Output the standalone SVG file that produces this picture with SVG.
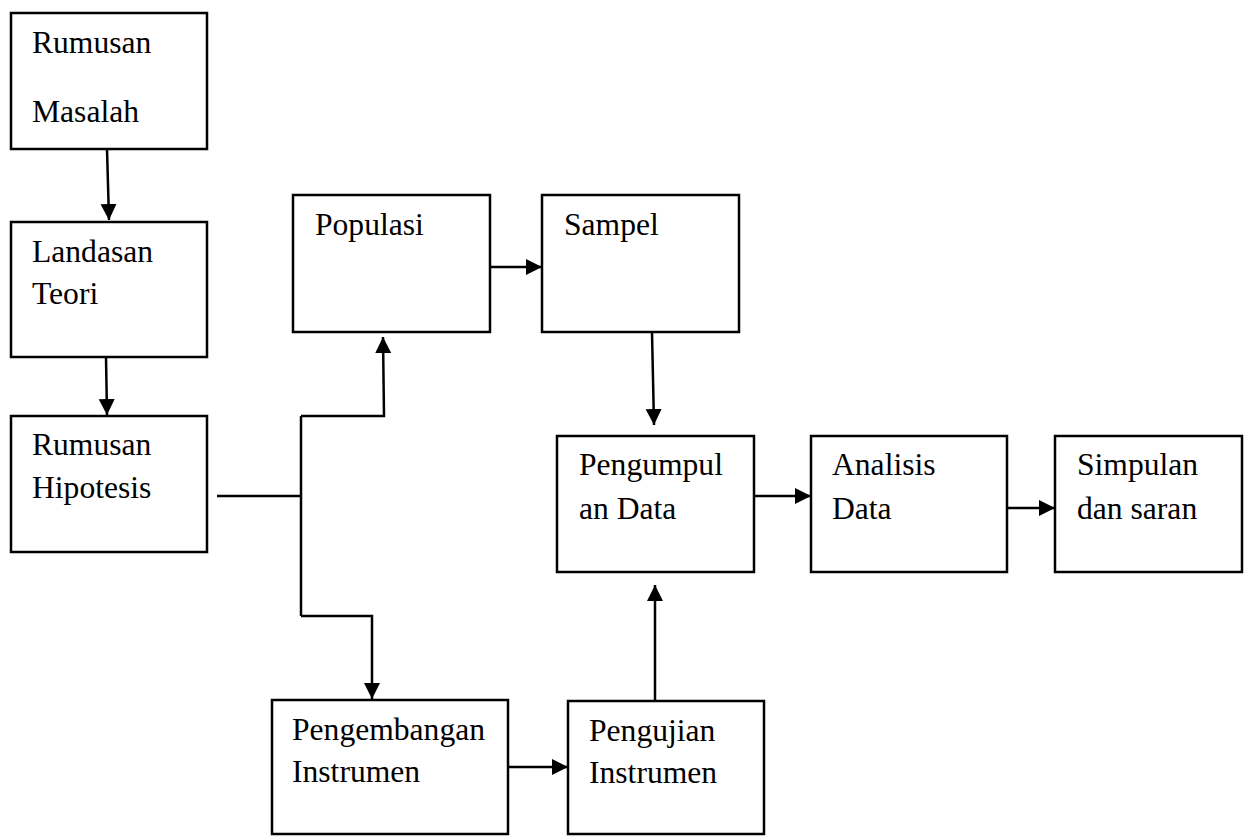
<svg xmlns="http://www.w3.org/2000/svg" width="1244" height="836" viewBox="0 0 1244 836">
<style>
.box{fill:#fff;stroke:#000;stroke-width:2.5}
text{font-family:'Liberation Serif','Times New Roman','DejaVu Serif',serif;font-size:31.6px;fill:#000}
.c{fill:none;stroke:#000;stroke-width:2.5}
</style>
<defs>
<marker id="ah" markerUnits="userSpaceOnUse" markerWidth="18" markerHeight="18" refX="16" refY="8" orient="auto" viewBox="0 0 18 18">
<path d="M0,0 L16,8 L0,16 z" fill="#000"/>
</marker>
</defs>
<rect width="1244" height="836" fill="#fff"/>
<g id="connectors">
<path class="c" d="M107,149 L109,220" marker-end="url(#ah)"/>
<path class="c" d="M106,357 L107,415" marker-end="url(#ah)"/>
<path class="c" d="M217,496 L301,496"/>
<path class="c" d="M301,416 L301,616"/>
<path class="c" d="M301,416 L384,416 L383,337" marker-end="url(#ah)"/>
<path class="c" d="M301,616 L372,616 L372,699" marker-end="url(#ah)"/>
<path class="c" d="M490,267 L542,267" marker-end="url(#ah)"/>
<path class="c" d="M652,332 L654,425" marker-end="url(#ah)"/>
<path class="c" d="M754,496 L811,496" marker-end="url(#ah)"/>
<path class="c" d="M1007,508 L1055,508" marker-end="url(#ah)"/>
<path class="c" d="M508,767 L568,767" marker-end="url(#ah)"/>
<path class="c" d="M655,700 L655,585" marker-end="url(#ah)"/>
</g>
<g id="rumusan-masalah">
<rect class="box" x="11" y="13" width="196" height="136"/>
<text x="32" y="53">Rumusan</text>
<text x="32" y="122">Masalah</text>
</g>
<g id="landasan-teori">
<rect class="box" x="11" y="222" width="196" height="135"/>
<text x="32" y="262">Landasan</text>
<text x="32" y="304">Teori</text>
</g>
<g id="rumusan-hipotesis">
<rect class="box" x="11" y="416" width="196" height="136"/>
<text x="32" y="455">Rumusan</text>
<text x="32" y="498">Hipotesis</text>
</g>
<g id="populasi">
<rect class="box" x="293" y="195" width="197" height="137"/>
<text x="315" y="235">Populasi</text>
</g>
<g id="sampel">
<rect class="box" x="542" y="195" width="197" height="137"/>
<text x="564" y="235">Sampel</text>
</g>
<g id="pengumpulan-data">
<rect class="box" x="557" y="436" width="197" height="136"/>
<text x="579" y="475">Pengumpul</text>
<text x="579" y="519">an Data</text>
</g>
<g id="analisis-data">
<rect class="box" x="811" y="436" width="196" height="136"/>
<text x="832" y="475">Analisis</text>
<text x="832" y="519">Data</text>
</g>
<g id="simpulan-saran">
<rect class="box" x="1055" y="436" width="187" height="136"/>
<text x="1077" y="475">Simpulan</text>
<text x="1077" y="519">dan saran</text>
</g>
<g id="pengembangan-instrumen">
<rect class="box" x="272" y="700" width="236" height="134"/>
<text x="292" y="740">Pengembangan</text>
<text x="292" y="782">Instrumen</text>
</g>
<g id="pengujian-instrumen">
<rect class="box" x="568" y="701" width="196" height="133"/>
<text x="589" y="741">Pengujian</text>
<text x="589" y="783">Instrumen</text>
</g>
</svg>
